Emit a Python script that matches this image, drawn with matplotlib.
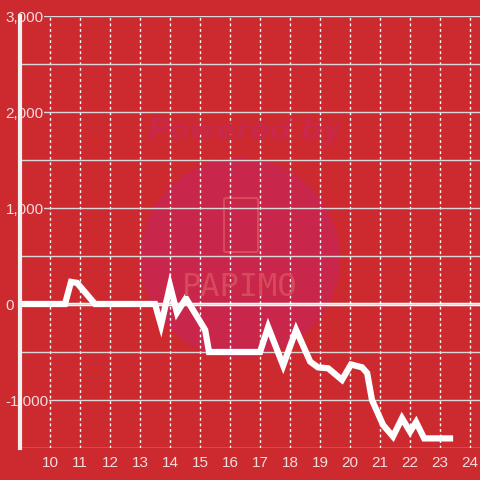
import matplotlib
matplotlib.use("Agg")
import matplotlib.pyplot as plt
from matplotlib.patches import Circle, FancyBboxPatch
from matplotlib.ticker import MultipleLocator, FuncFormatter

# series
hours = [9.0, 10.5, 10.7, 10.9, 11.5, 13.5, 13.7, 14.0, 14.23, 14.53, 15.17, 15.3,
         17.0, 17.27, 17.77, 18.2, 18.67, 18.93, 19.27, 19.73, 20.03, 20.4, 20.57,
         20.73, 21.1, 21.43, 21.73, 22.0, 22.2, 22.47, 23.33]
values = [0, 0, 230, 220, 0, 0, -220, 190, -90, 60, -270, -500,
          -500, -240, -640, -270, -600, -660, -670, -790, -630, -660, -720,
          -1000, -1260, -1380, -1190, -1330, -1230, -1400, -1400]
x_ticks = list(range(10, 25))

BG = "#cc2a2f"
TXT = "#f4dcdc"
plt.rcParams["font.family"] = ["Liberation Sans", "DejaVu Sans"]

fig = plt.figure(figsize=(4.8, 4.8), dpi=100, facecolor=BG)
ax = fig.add_axes([20 / 480, 32 / 480, 460 / 480, 432 / 480])
ax.set_facecolor(BG)

# watermark
ax.add_patch(Circle((2.40, 2.22), 1.0, transform=fig.dpi_scale_trans,
                    facecolor="#c8264a", edgecolor="none", zorder=0.1))
fig.text(0.51, 0.728, "Powered by", ha="center", va="center", fontsize=21,
         fontweight="bold", fontstyle="italic", color="#c92848",
         family="DejaVu Sans", zorder=0.2)
ax.add_patch(FancyBboxPatch((2.26, 2.30), 0.30, 0.50, boxstyle="round,pad=0.02",
                            transform=fig.dpi_scale_trans, facecolor="none",
                            edgecolor="#d64a5c", lw=1.5, zorder=0.2))
fig.text(0.50, 0.40, "PAPIMO", ha="center", va="center", fontsize=23,
         color="#d64a5c", family="DejaVu Sans Mono", zorder=0.2)

ax.set_xlim(9, 24.33)
ax.set_ylim(-1500, 3000)

ax.yaxis.set_major_locator(MultipleLocator(1000))
ax.yaxis.set_minor_locator(MultipleLocator(500))
ax.set_xticks(x_ticks)
ax.yaxis.set_major_formatter(FuncFormatter(lambda v, p: f"{int(v):,}"))

ax.grid(which="both", axis="y", color="#d9d9d9", lw=1.0)
ax.grid(which="major", axis="x", color="white", lw=1.0, linestyle=(0, (2, 2)))
ax.axhline(0, color="white", lw=2.5, zorder=1.5)

ax.plot(hours, values, color="white", lw=4.5, solid_joinstyle="miter", zorder=3)

for s in ["top", "right", "bottom"]:
    ax.spines[s].set_visible(False)
ax.spines["left"].set_color("#f4f0f0")
ax.spines["left"].set_linewidth(3)
ax.spines["left"].set_zorder(4)

ax.tick_params(which="both", length=0, colors=TXT, labelsize=11)
ax.tick_params(axis="y", pad=10.5)
fig.canvas.draw()
for lab in ax.get_yticklabels():
    lab.set_horizontalalignment("left")
    lab.set_bbox(dict(facecolor=BG, edgecolor="none", pad=0.5))
    lab.set_zorder(5)
ax.tick_params(axis="x", pad=6)

fig.savefig("out.png", dpi=100, facecolor=BG)
